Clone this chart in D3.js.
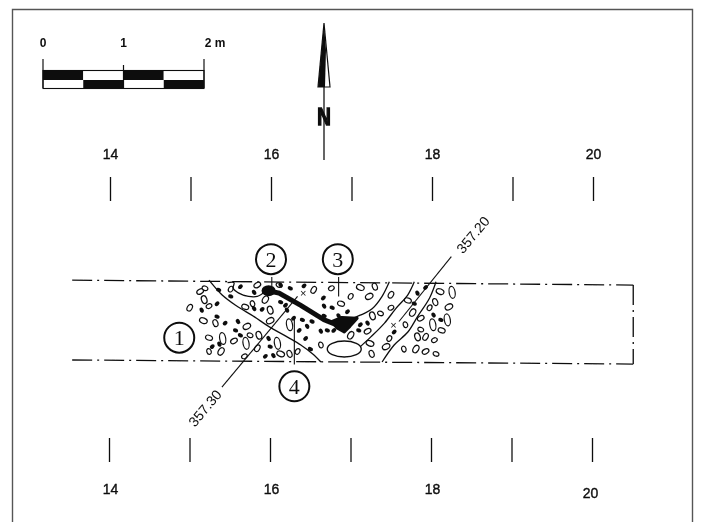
<!doctype html>
<html lang="en">
<head>
    <meta charset="UTF-8">
    <title>Trench plan</title>
    <script src="https://d3js.org/d3.v7.min.js"></script>
    <style>
      html, body { margin: 0; padding: 0; background: #fff; }
      svg { display: block; }
      text { font-family: "Liberation Sans", sans-serif; fill: #111; }
    </style>
</head>
<body>
    <svg width="701" height="522"></svg>

    <script>

      // Data: all in metres, easting = site grid, northing = from south edge of trench
      const gridTicks = [14, 15, 16, 17, 18, 19, 20];
      const gridLabels = [14, 16, 18, 20];
      const scaleMarks = [0, 0.5, 1, 1.5, 2];
      const scaleLabels = [[0, "0"], [1, "1"], [2, "2 m"]];

      const trenchTop = [[13.53, 1.01], [20.5, 0.95]];
      const trenchRight = [[20.5, 0.95], [20.5, -0.025]];
      const trenchBottom = [[13.53, 0.025], [20.5, -0.025]];

      const boundaryA = [[15.23, 1.01], [15.39, 0.83], [15.56, 0.70], [15.79, 0.56], [15.97, 0.44], [16.20, 0.31], [16.37, 0.21], [16.53, 0.09], [16.62, 0.0]];
      const boundaryB = [[17.47, 0.99], [17.38, 0.81], [17.26, 0.66], [17.16, 0.60], [17.01, 0.54]];
      const boundaryC = [[17.78, 0.99], [17.70, 0.83], [17.55, 0.66], [17.41, 0.48], [17.24, 0.31], [17.11, 0.19]];
      const boundaryD = [[18.05, 0.99], [17.97, 0.79], [17.82, 0.56], [17.70, 0.37], [17.53, 0.21], [17.38, 0.0]];
      const boundaryE = [[15.46, 0.98], [15.54, 0.98], [15.53, 0.91], [15.60, 0.85], [15.72, 0.81], [15.83, 0.81], [15.93, 0.87]];
      const floorLine = [[15.96, 0.88], [16.1, 0.85], [16.37, 0.70], [16.66, 0.52], [16.89, 0.43]];
      const floorBlob = [[16.76, 0.50], [16.88, 0.55], [17.07, 0.54], [16.98, 0.44], [16.91, 0.37], [16.82, 0.42]];

      const levels = [
        { label: "357.30", at: [15.18, -0.57], line: [[15.39, -0.31], [16.33, 0.81]] },
        { label: "357.20", at: [18.51, 1.57], line: [[18.24, 1.30], [17.59, 0.50]] }
      ];
      const crosses = [[16.4, 0.85], [17.52, 0.45]];

      const layers = [
        { label: "1", at: [14.86, 0.3], line: null },
        { label: "2", at: [16, 1.27], line: [[16.01, 1.05], [16.01, 0.93]] },
        { label: "3", at: [16.83, 1.27], line: [[16.84, 1.05], [16.84, 0.81]] },
        { label: "4", at: [16.29, -0.3], line: [[16.29, 0.56], [16.29, -0.03]] }
      ];

      const openStones = [
        [15.12, 0.87], [15.18, 0.91], [15.17, 0.77], [14.99, 0.67], [15.23, 0.69], [15.16, 0.51],
        [15.31, 0.48], [15.50, 0.90], [15.70, 0.44], [15.23, 0.30], [15.23, 0.13], [15.38, 0.13],
        [15.54, 0.26], [15.74, 0.33], [15.85, 0.33], [15.83, 0.17], [15.67, 0.07], [16.12, 0.10],
        [16.23, 0.10], [16.33, 0.13], [15.99, 0.51], [15.68, 0.68], [15.77, 0.72], [15.93, 0.77],
        [15.83, 0.95], [16.10, 0.95], [15.99, 0.64], [16.53, 0.89], [16.75, 0.91], [17.11, 0.92],
        [17.29, 0.93], [16.99, 0.81], [17.22, 0.81], [16.87, 0.72], [16.62, 0.21], [16.99, 0.33],
        [17.20, 0.38], [17.36, 0.60], [17.26, 0.57], [17.49, 0.83], [17.49, 0.67], [17.23, 0.23],
        [17.25, 0.10], [17.47, 0.29], [17.43, 0.19], [17.70, 0.76], [17.67, 0.46], [17.76, 0.61],
        [17.86, 0.54], [17.86, 0.40], [17.82, 0.31], [17.92, 0.31], [18.03, 0.27], [18.10, 0.87],
        [18.04, 0.74], [17.97, 0.67], [18.21, 0.68], [18.12, 0.39], [17.65, 0.16], [17.80, 0.16],
        [17.92, 0.13], [18.05, 0.10]
      ];
      const longStones = [
        [15.40, 0.29], [15.69, 0.23], [16.08, 0.23], [16.23, 0.46], [18.01, 0.46], [18.19, 0.52], [18.25, 0.86]
      ];
      const darkStones = [
        [15.35, 0.89], [15.62, 0.93], [15.79, 0.86], [15.50, 0.81], [15.33, 0.72], [15.14, 0.64],
        [15.33, 0.56], [15.43, 0.48], [15.59, 0.50], [15.56, 0.39], [15.27, 0.19], [15.36, 0.22],
        [15.62, 0.33], [15.89, 0.65], [15.79, 0.66], [16.12, 0.74], [16.18, 0.70], [16.20, 0.64],
        [16.24, 0.91], [16.41, 0.94], [16.12, 0.95], [16.39, 0.52], [16.35, 0.39], [16.45, 0.44],
        [16.51, 0.50], [16.43, 0.29], [16.62, 0.38], [16.70, 0.39], [16.78, 0.39], [15.97, 0.29],
        [15.99, 0.19], [15.93, 0.07], [16.03, 0.08], [16.49, 0.16], [16.65, 0.79], [16.66, 0.69],
        [16.76, 0.67], [16.95, 0.62], [16.84, 0.57], [16.66, 0.57], [17.11, 0.46], [17.20, 0.48],
        [17.09, 0.39], [17.53, 0.37], [17.82, 0.85], [17.78, 0.72], [17.92, 0.92], [18.02, 0.58],
        [18.11, 0.52], [16.28, 0.54], [16.01, 0.90], [15.95, 0.89]
      ];
      const bigStone = [16.91, 0.16];
      const floorEnd = [15.97, 0.88];

      // SVG and scales
      const svg = d3.select("svg");
      const ink = "#111";
      const x = d3.scaleLinear().domain([14, 20]).range([110, 593]);
      const y = d3.scaleLinear().domain([0, 1]).range([362, 281]);
      const scaleBar = d3.scaleLinear().domain([0, 2]).range([43, 204]);
      const line = d3.line().x(d => x(d[0])).y(d => y(d[1]));
      const curve = d3.line().x(d => x(d[0])).y(d => y(d[1])).curve(d3.curveCatmullRom);

      // scan softness
      svg.append("defs").append("filter").attr("id", "scan")
          .append("feGaussianBlur").attr("stdDeviation", 0.45);
      const plot = svg.append("g").attr("filter", "url(#scan)");

      // Page frame
      plot.append("path")
          .attr("d", "M12.5,522V9.5H692.5V522")
          .attr("fill", "none").attr("stroke", "#555").attr("stroke-width", 1.4);

      // Grid axes
      function gridAxis(axis, top, left, size, pad) {
        const g = plot.append("g")
            .attr("transform", "translate(" + left + "," + top + ")")
            .call(axis.tickValues(gridTicks).tickSize(size).tickPadding(pad)
              .tickFormat(d => gridLabels.includes(d) ? d : ""));
        g.select(".domain").remove();
        g.selectAll("line").attr("stroke", ink).attr("stroke-width", 1.3);
        g.selectAll("text").attr("font-size", 14).attr("font-family", null)
            .attr("stroke", ink).attr("stroke-width", 0.4);
        return g;
      }
      gridAxis(d3.axisTop(x), 201, 0, 24, 18);
      gridAxis(d3.axisBottom(x), 438, -1, 24, 22)
          .selectAll("text").attr("dx", d => d === 20 ? -2 : 1).attr("dy", d => d === 20 ? "1em" : "0.71em");

      // Trench outline
      [trenchTop, trenchRight, trenchBottom].forEach(d => {
        plot.append("path").attr("d", line(d))
            .attr("fill", "none").attr("stroke", ink).attr("stroke-width", 1.3)
            .attr("stroke-dasharray", "20,5,2,5");
      });

      // Stones
      const stones = plot.append("g");
      stones.selectAll(".open").data(openStones).join("ellipse")
          .attr("transform", (d, i) => `translate(${x(d[0])},${y(d[1])}) rotate(${[-30, 20, 70, -60][i % 4]})`)
          .attr("rx", (d, i) => [3.6, 3, 4][i % 3]).attr("ry", (d, i) => [2.4, 2.2, 2.7][i % 3])
          .attr("fill", "#fff").attr("stroke", ink).attr("stroke-width", 1.2);
      stones.selectAll(".long").data(longStones).join("ellipse")
          .attr("transform", d => `translate(${x(d[0])},${y(d[1])}) rotate(80)`)
          .attr("rx", 6).attr("ry", 3)
          .attr("fill", "#fff").attr("stroke", ink).attr("stroke-width", 1.2);
      stones.selectAll(".dark").data(darkStones).join("ellipse")
          .attr("transform", (d, i) => `translate(${x(d[0])},${y(d[1])}) rotate(${[20, -40, 60][i % 3]})`)
          .attr("rx", 2.7).attr("ry", 2).attr("fill", ink);
      stones.append("ellipse")
          .attr("cx", x(bigStone[0])).attr("cy", y(bigStone[1]))
          .attr("rx", 17).attr("ry", 8)
          .attr("fill", "#fff").attr("stroke", ink).attr("stroke-width", 1.4);

      // Layer boundaries
      [boundaryA, boundaryB, boundaryC, boundaryD, boundaryE].forEach(d => {
        plot.append("path").attr("d", curve(d))
            .attr("fill", "none").attr("stroke", ink).attr("stroke-width", 1.3);
      });

      // Floor line and its two ends
      plot.append("path").attr("d", line(floorLine))
          .attr("fill", "none").attr("stroke", ink).attr("stroke-width", 5);
      plot.append("path").attr("d", line(floorBlob) + "Z").attr("fill", ink)
          .attr("stroke", ink).attr("stroke-linejoin", "round").attr("stroke-width", 3);
      plot.append("ellipse")
          .attr("cx", x(floorEnd[0])).attr("cy", y(floorEnd[1])).attr("rx", 7).attr("ry", 5.5).attr("fill", ink);

      // Levels
      levels.forEach(d => {
        plot.append("path").attr("d", line(d.line)).attr("stroke", ink).attr("stroke-width", 1.1);
        plot.append("text")
            .attr("transform", `translate(${x(d.at[0])},${y(d.at[1])}) rotate(-50)`)
            .attr("text-anchor", "middle").attr("dy", "0.35em")
            .attr("font-size", 14).text(d.label);
      });
      plot.selectAll(".cross").data(crosses).join("text")
          .attr("x", d => x(d[0])).attr("y", d => y(d[1]))
          .attr("text-anchor", "middle").attr("dy", "0.35em").attr("font-size", 11).text("×");

      // Numbered layers
      layers.forEach(d => {
        if (d.line) plot.append("path").attr("d", line(d.line)).attr("stroke", ink).attr("stroke-width", 1.1);
        plot.append("circle").attr("cx", x(d.at[0])).attr("cy", y(d.at[1])).attr("r", 15)
            .attr("fill", "#fff").attr("stroke", ink).attr("stroke-width", 2);
        plot.append("text").attr("x", x(d.at[0])).attr("y", y(d.at[1]))
            .attr("text-anchor", "middle").attr("dy", "0.35em")
            .style("font-family", "Liberation Serif")
            .attr("font-size", 22).text(d.label);
      });

      // Scale bar
      const bar = plot.append("g");
      bar.selectAll(".seg").data(d3.pairs(scaleMarks)).join("g").each(function (d, i) {
        const s = d3.select(this);
        s.append("rect").attr("x", scaleBar(d[0])).attr("width", scaleBar(d[1]) - scaleBar(d[0]))
            .attr("y", 71).attr("height", 9).attr("fill", i % 2 ? "#fff" : ink);
        s.append("rect").attr("x", scaleBar(d[0])).attr("width", scaleBar(d[1]) - scaleBar(d[0]))
            .attr("y", 80).attr("height", 8).attr("fill", i % 2 ? ink : "#fff");
      });
      bar.append("rect").attr("x", scaleBar(0)).attr("y", 70.5)
          .attr("width", scaleBar(2) - scaleBar(0)).attr("height", 18)
          .attr("fill", "none").attr("stroke", ink).attr("stroke-width", 1.1);
      bar.selectAll(".mark").data(scaleLabels).join("line")
          .attr("x1", d => scaleBar(d[0])).attr("x2", d => scaleBar(d[0]))
          .attr("y1", d => d[0] === 1 ? 65 : 59).attr("y2", 88)
          .attr("stroke", ink).attr("stroke-width", 1.2);
      bar.selectAll(".lab").data(scaleLabels).join("text")
          .attr("x", d => scaleBar(d[0]) + (d[0] === 2 ? 11 : 0)).attr("y", 43)
          .attr("text-anchor", "middle").attr("dy", "0.35em")
          .attr("font-size", 12).attr("font-weight", "bold").text(d => d[1]);

      // North arrow
      const north = plot.append("g");
      north.append("path").attr("d", "M324,87V160").attr("stroke", ink).attr("stroke-width", 1.3);
      north.append("path").attr("d", "M324,23L318,87H330Z").attr("fill", "#fff").attr("stroke", ink).attr("stroke-width", 1.2);
      north.append("path").attr("d", "M324,23L318,87H325L326,50Z").attr("fill", ink);
      north.append("text")
          .attr("transform", "translate(324,116) scale(0.85,1.1)")
          .attr("text-anchor", "middle").attr("dy", "0.36em")
          .attr("font-size", 22).attr("font-weight", "bold")
          .attr("stroke", ink).attr("stroke-width", 1.4).text("N");

    </script>

</body>
</html>
